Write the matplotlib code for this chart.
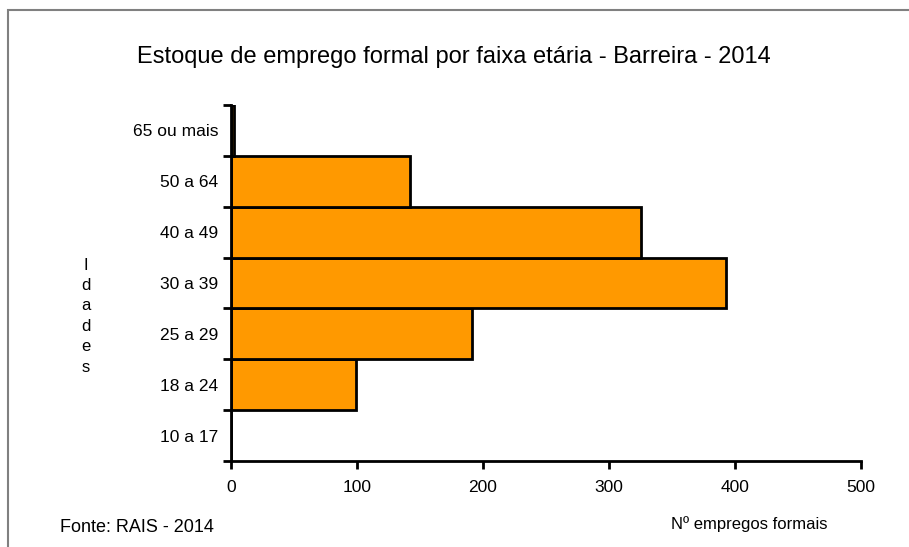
import numpy as np
import matplotlib.pyplot as plt
from matplotlib.patches import Rectangle

# dados
faixas = ['10 a 17', '18 a 24', '25 a 29', '30 a 39', '40 a 49', '50 a 64', '65 ou mais']
empregos = [0, 99, 191, 393, 325, 142, 2]
xticks = [0, 100, 200, 300, 400, 500]

plt.rcParams['font.family'] = ['Liberation Sans', 'DejaVu Sans']

fig = plt.figure(figsize=(9.09, 5.47), dpi=100)
ax = fig.add_axes([231 / 909, 1 - 461 / 547, (861 - 231) / 909, (461 - 105) / 547])

pos = np.arange(len(faixas))
ax.barh(pos, empregos, height=1.0, color='#FF9900', edgecolor='black', linewidth=2)

ax.set_xlim(0, 500)
ax.set_ylim(-0.5, len(faixas) - 0.5)
ax.set_xticks(xticks)
ax.set_xticklabels([str(v) for v in xticks], fontsize=12.5)
# ticks nas fronteiras das categorias, rótulos no centro
ax.set_yticks(np.arange(len(faixas) + 1) - 0.5)
ax.set_yticklabels([])
ax.set_yticks(pos, minor=True)
ax.set_yticklabels(faixas, minor=True, fontsize=12.5)
ax.tick_params(axis='y', which='minor', length=0, pad=9)
ax.tick_params(axis='y', which='major', length=6, width=2, direction='out')
ax.tick_params(axis='x', length=6, width=2, direction='out', pad=8)

for s in ['top', 'right']:
    ax.spines[s].set_visible(False)
ax.spines['left'].set_linewidth(2)
ax.spines['bottom'].set_linewidth(2)

fig.text(454 / 909, 1 - 57 / 547, 'Estoque de emprego formal por faixa etária - Barreira - 2014',
         ha='center', va='center', fontsize=17)
fig.text(86 / 909, 1 - 316 / 547, 'I\nd\na\nd\ne\ns', ha='center', va='center',
         fontsize=12, linespacing=1.45)
fig.text(749 / 909, 1 - 524 / 547, 'Nº empregos formais', ha='center', va='center', fontsize=12)
fig.text(137 / 909, 1 - 528 / 547, 'Fonte: RAIS - 2014', ha='center', va='center', fontsize=13)

# moldura
fig.patches.append(Rectangle((8 / 909, -0.1), 1.1, 1 - 10 / 547 + 0.1, transform=fig.transFigure,
                             fill=False, edgecolor='#808080', linewidth=1.5))

fig.savefig('out.png', dpi=100)
